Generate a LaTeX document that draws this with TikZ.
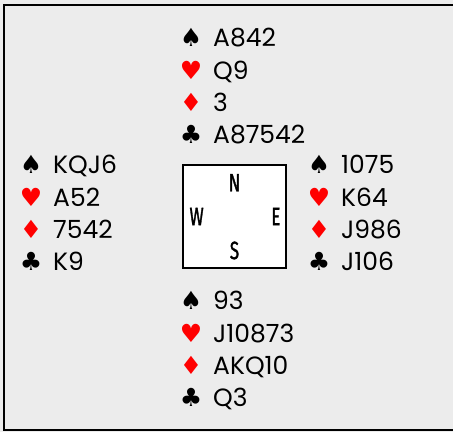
\documentclass[tikz,border=0pt]{standalone}
\usepackage{fontspec}
\usepackage{xcolor}
\usetikzlibrary{positioning}
\newfontfamily\handfont{Poppins}
\newfontfamily\suitfont{DejaVu Sans}
\newfontfamily\dirfont[FakeStretch=0.68,FakeBold=1.2]{Fira Sans}
\definecolor{cbg}{RGB}{236,236,236}
\definecolor{cred}{RGB}{255,0,0}
\newcommand{\suitS}{\makebox[44pt]{\suitfont\fontsize{25}{25}\selectfont ♠}}
\newcommand{\suitH}{\makebox[44pt]{\suitfont\fontsize{25}{25}\selectfont\color{cred}♥}}
\newcommand{\suitD}{\makebox[44pt]{\suitfont\fontsize{25}{25}\selectfont\color{cred}♦}}
\newcommand{\suitC}{\makebox[44pt]{\suitfont\fontsize{25}{25}\selectfont ♣}}

\begin{document}
\begin{tikzpicture}[x=1pt,y=-1pt,node distance=14.5pt,
row/.style={anchor=west,inner sep=0pt,text height=17.5pt,text depth=0pt,
  font=\handfont\fontsize{25}{30}\selectfont},
table/.style={draw,line width=1.2pt,fill=white,minimum size=103pt,inner sep=0pt},
dir/.style={inner sep=0pt,font=\dirfont\fontsize{25}{25}\selectfont}]
\useasboundingbox (0,0) rectangle (453,432);
\fill[cbg] (0,0) rectangle (470,432);
\draw[line width=2pt] (470,4.5) -- (3.5,4.5) -- (3.5,430) -- (470,430);
% table
\node[table] (tbl) at (234.5,216.5) {};
\node[dir,below=9.5pt of tbl.north] (dN) {N};
\node[dir,right=7pt of tbl.west] (dW) {W};
\node[dir,left=6pt of tbl.east] (dE) {E};
\node[dir,above=9pt of tbl.south] (dS) {S};
% north
\node[row] (nS) at (169,38) {\suitS A842};
\node[row,below=of nS.south west,anchor=north west] (nH) {\suitH Q9};
\node[row,below=of nH.south west,anchor=north west] (nD) {\suitD 3};
\node[row,below=of nD.south west,anchor=north west] (nC) {\suitC A87542};
% west
\node[row] (wS) at (9,165) {\suitS KQJ6};
\node[row,below=of wS.south west,anchor=north west] (wH) {\suitH A52};
\node[row,below=of wH.south west,anchor=north west] (wD) {\suitD 7542};
\node[row,below=of wD.south west,anchor=north west] (wC) {\suitC K9};
% east
\node[row] (eS) at (297,165) {\suitS 1075};
\node[row,below=of eS.south west,anchor=north west] (eH) {\suitH K64};
\node[row,below=of eH.south west,anchor=north west] (eD) {\suitD J986};
\node[row,below=of eD.south west,anchor=north west] (eC) {\suitC J106};
% south
\node[row] (sS) at (169,301) {\suitS 93};
\node[row,below=of sS.south west,anchor=north west] (sH) {\suitH J10873};
\node[row,below=of sH.south west,anchor=north west] (sD) {\suitD AKQ10};
\node[row,below=of sD.south west,anchor=north west] (sC) {\suitC Q3};
\end{tikzpicture}
\end{document}
